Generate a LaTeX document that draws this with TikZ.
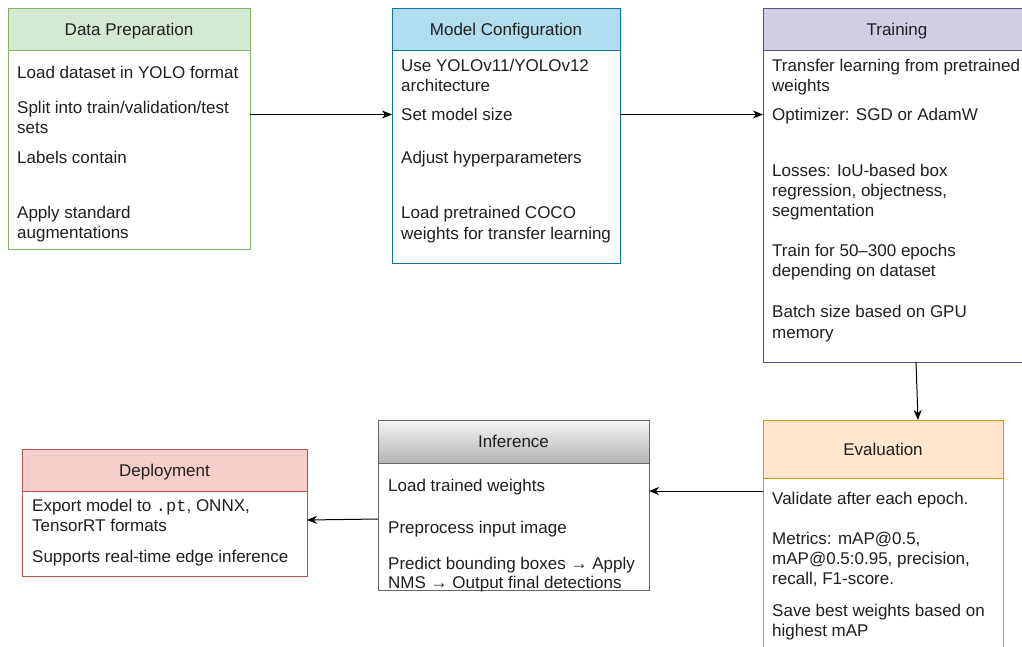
\documentclass[tikz,border=0pt]{standalone}
\usepackage{fontspec}
\setmainfont{Liberation Sans}
\setmonofont{Liberation Mono}
\usetikzlibrary{arrows.meta,calc}
\definecolor{tx}{HTML}{1F1F1F}
\definecolor{dpF}{HTML}{D5E8D4}\definecolor{dpB}{HTML}{82B366}
\definecolor{mcF}{HTML}{B1DDF0}\definecolor{mcB}{HTML}{10739E}
\definecolor{trF}{HTML}{D0CEE2}\definecolor{trB}{HTML}{56517E}
\definecolor{evF}{HTML}{FFE6CC}\definecolor{evB}{HTML}{D79B00}
\definecolor{inT}{HTML}{F5F5F5}\definecolor{inBo}{HTML}{B3B3B3}\definecolor{inB}{HTML}{666666}
\definecolor{deF}{HTML}{F8CECC}\definecolor{deB}{HTML}{B85450}
\tikzset{
  panel/.style={draw=#1, line width=1pt, anchor=north west, inner sep=0pt, outer sep=0pt, fill=white},
  head/.style={draw=#1, line width=1pt, anchor=north west, inner sep=0pt, outer sep=0pt},
  ttl/.style={anchor=center, inner sep=0pt, text height=12.2pt, text depth=0pt, text=tx, font=\fontsize{17}{20.4}\selectfont},
  ln/.style={anchor=west, inner sep=0pt, text height=12.2pt, text depth=0pt, text=tx, font=\fontsize{17}{20.4}\selectfont},
  conn/.style={-{Stealth[length=10pt,width=8pt,inset=3pt]}, line width=1pt, black}
}
\begin{document}
\begin{tikzpicture}[x=1pt,y=-1pt]
\useasboundingbox (0,0) rectangle (1022,646);
\clip (0,0) rectangle (1022,646);
% Data Preparation
\node[panel=dpB, minimum width=242pt, minimum height=241pt] (dp) at (8,8) {};
\node[head=dpB, fill=dpF, minimum width=242pt, minimum height=42pt] (dph) at (8,8) {};
\node[ttl] at (dph.center) {Data Preparation};
\node[ln] (dp1) at (17,72) {Load dataset in YOLO format};
\node[ln] (dp2) at (17,107) {Split into train/validation/test};
\node[ln] (dp3) at (17,127) {sets};
\node[ln] (dp4) at (17,157) {Labels contain};
\node[ln] (dp5) at (17,212) {Apply standard};
\node[ln] (dp6) at (17,232) {augmentations};
% Model Configuration
\node[panel=mcB, minimum width=228pt, minimum height=255pt] (mc) at (392,8) {};
\node[head=mcB, fill=mcF, minimum width=228pt, minimum height=42pt] (mch) at (392,8) {};
\node[ttl] at (mch.center) {Model Configuration};
\node[ln] (mc1) at (401,65) {Use YOLOv11/YOLOv12};
\node[ln] (mc1b) at (401,85) {architecture};
\node[ln] (mc2) at (401,114.5) {Set model size};
\node[ln] (mc3) at (401,157) {Adjust hyperparameters};
\node[ln] (mc4) at (401,212) {Load pretrained COCO};
\node[ln] (mc4b) at (401,233) {weights for transfer learning};
% Training
\node[panel=trB, minimum width=268pt, minimum height=354pt] (tr) at (763,8) {};
\node[head=trB, fill=trF, minimum width=268pt, minimum height=42pt] (trh) at (763,8) {};
\node[ttl] at (trh.center) {Training};
\node[ln] (tr1) at (772,65) {Transfer learning from pretrained};
\node[ln] (tr1b) at (772,85) {weights};
\node[ln] (tr2) at (772,114.5) {Optimizer: SGD or AdamW};
\node[ln] (tr3) at (772,170) {Losses: IoU-based box};
\node[ln] (tr3b) at (772,190) {regression, objectness,};
\node[ln] (tr3c) at (772,210) {segmentation};
\node[ln] (tr4) at (772,250) {Train for 50–300 epochs};
\node[ln] (tr4b) at (772,270) {depending on dataset};
\node[ln] (tr5) at (772,311) {Batch size based on GPU};
\node[ln] (tr5b) at (772,332) {memory};
% Evaluation
\node[panel=evB, minimum width=240pt, minimum height=250pt] (ev) at (763,420) {};
\node[head=evB, fill=evF, minimum width=240pt, minimum height=58pt] (evh) at (763,420) {};
\node[ttl] at (evh.center) {Evaluation};
\node[ln] (ev1) at (772,498) {Validate after each epoch.};
\node[ln] (ev2) at (772,538) {Metrics: mAP@0.5,};
\node[ln] (ev2b) at (772,558) {mAP@0.5:0.95, precision,};
\node[ln] (ev2c) at (772,578) {recall, F1-score.};
\node[ln] (ev3) at (772,610) {Save best weights based on};
\node[ln] (ev3b) at (772,630) {highest mAP};
% Inference
\node[panel=inB, minimum width=271pt, minimum height=170pt] (inf) at (378,420) {};
\node[head=inB, top color=inT, bottom color=inBo, minimum width=271pt, minimum height=43pt] (infh) at (378,420) {};
\node[ttl] at (infh.center) {Inference};
\node[ln] (in1) at (388,485) {Load trained weights};
\node[ln] (in2) at (388,527) {Preprocess input image};
\node[ln] (in3) at (388,563) {Predict bounding boxes → Apply};
\node[ln] (in3b) at (388,582) {NMS → Output final detections};
% Deployment
\node[panel=deB, minimum width=285pt, minimum height=127pt] (dep) at (22,449) {};
\node[head=deB, fill=deF, minimum width=285pt, minimum height=42pt] (deph) at (22,449) {};
\node[ttl] at (deph.center) {Deployment};
\node[ln] (de1) at (32,505) {Export model to \texttt{.pt}, ONNX,};
\node[ln] (de1b) at (32,525) {TensorRT formats};
\node[ln] (de2) at (32,556) {Supports real-time edge inference};
% connectors
\draw[conn] (dp.east |- mc2.west) -- (mc.west |- mc2.west);
\draw[conn] (mc.east |- tr2.west) -- (tr.west |- tr2.west);
\draw[conn] ([xshift=19pt]tr.south) -- ([xshift=35pt]ev.north);
\draw[conn] ($(ev.north west)+(0,71)$) -- ($(inf.north east)+(0,71)$);
\draw[conn] ($(inf.north west)+(0,99)$) -- ($(dep.north east)+(0,71)$);
\end{tikzpicture}
\end{document}
